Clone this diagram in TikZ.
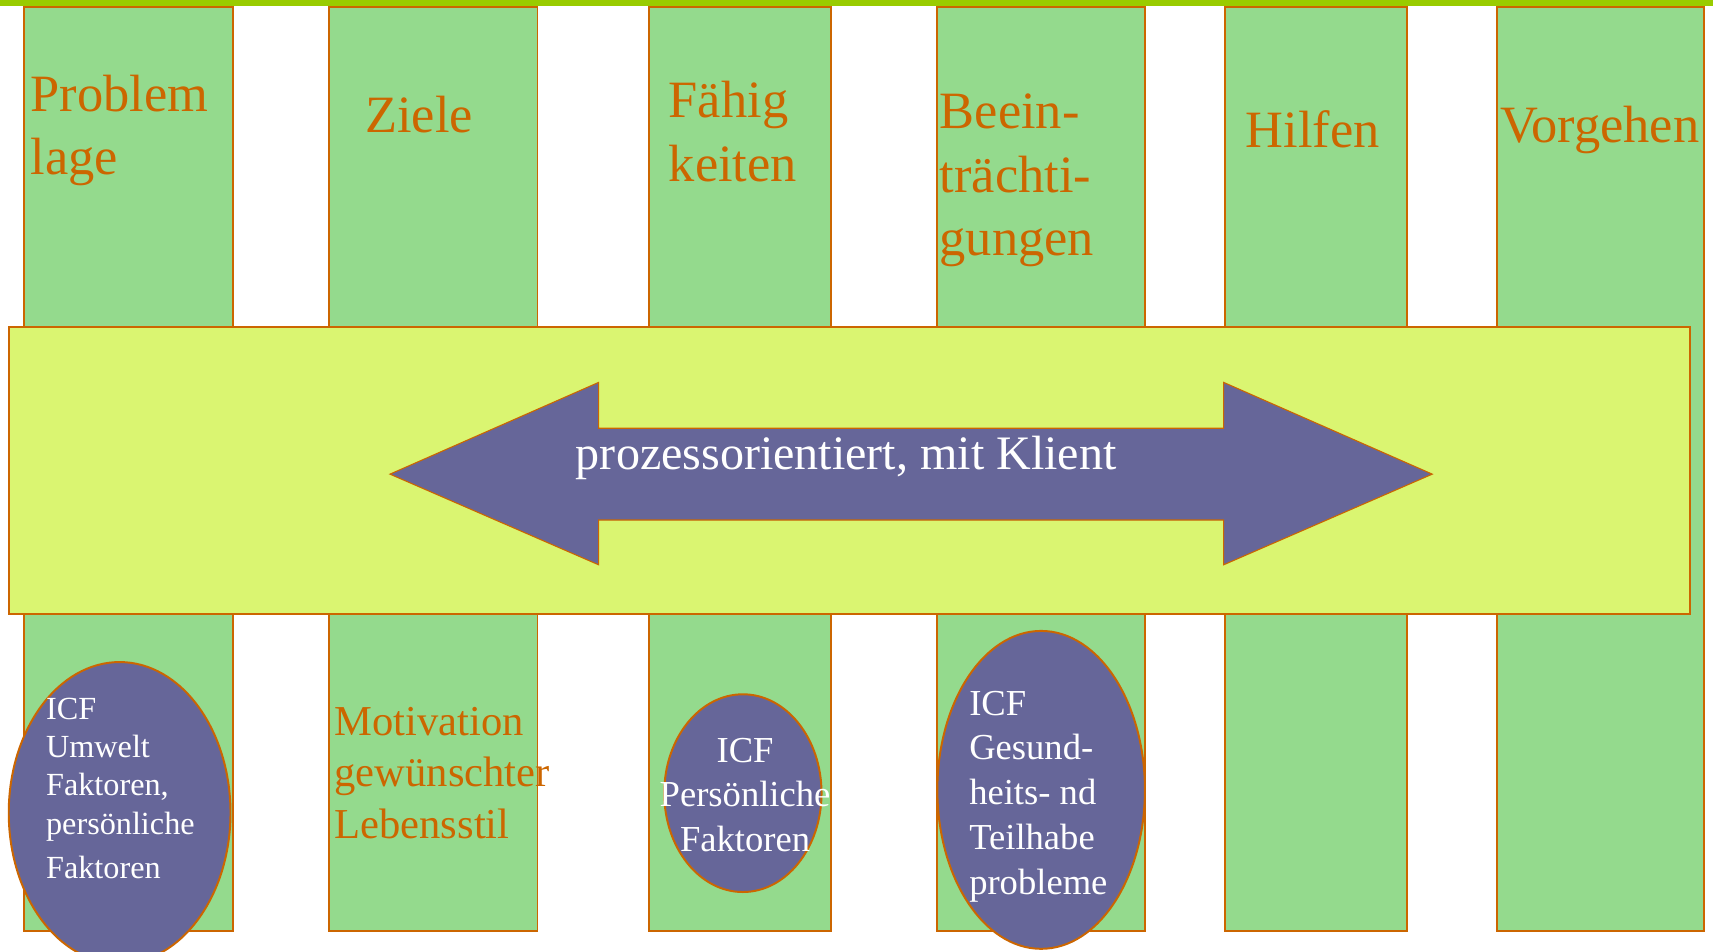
\documentclass[tikz,border=0pt]{standalone}
\usepackage{fontspec}
\setmainfont{Liberation Serif}
\usetikzlibrary{shapes.geometric}
\definecolor{topbar}{HTML}{99CC00}
\definecolor{colgreen}{HTML}{94DA8D}
\definecolor{bandyellow}{HTML}{DAF571}
\definecolor{edgeorange}{HTML}{CC6600}
\definecolor{icfpurple}{HTML}{666699}
\newcommand\linesL[1]{\begin{tabular}[t]{@{}l@{}}#1\end{tabular}}
\newcommand\linesC[1]{\begin{tabular}[t]{@{}c@{}}#1\end{tabular}}
\tikzset{
  colbox/.style={draw=edgeorange, fill=colgreen, line width=1.8pt, rectangle, inner sep=0pt, minimum height=846pt},
  bandbox/.style={draw=edgeorange, fill=bandyellow, line width=1.8pt, rectangle, inner sep=0pt},
  icf/.style={draw=edgeorange, fill=icfpurple, line width=1.8pt, ellipse, inner sep=0pt},
  head/.style={text=edgeorange, inner sep=0pt, anchor=base west, font=\fontsize{48}{58}\selectfont},
  wtext/.style={text=white, inner sep=0pt},
}
\begin{document}
\begin{tikzpicture}[x=1pt, y=-1pt]
\useasboundingbox (0,0) rectangle (1568,871);
\fill[white] (0,0) rectangle (1568,871);
% columns
\node[colbox, minimum width=191pt] (c1) at (117.5,429) {};
\node[colbox, minimum width=191pt] (c2) at (396.5,429) {};
\node[colbox, minimum width=167pt] (c3) at (677.5,429) {};
\node[colbox, minimum width=190pt] (c4) at (953,429) {};
\node[colbox, minimum width=167pt] (c5) at (1204.5,429) {};
\node[colbox, minimum width=190pt] (c6) at (1465,429) {};
% top bar
\fill[topbar] (0,0) rectangle (1568,5.5);
% headings
\node[head] (t1) at (28,102) {\linesL{Problem\\lage}};
\node[head] (t2) at (334,121) {Ziele};
\node[head] (t3) at (612,108) {\linesL{Fähig\\keiten}};
\node[head] (t4) at (860,118) {\linesL{Beein-\\trächti-\\gungen}};
\node[head] (t5) at (1140,135) {Hilfen};
\node[head] (t6) at (1373,130) {Vorgehen};
% band
\node[bandbox, minimum width=1539pt, minimum height=263pt] (band) at (777.5,430.5) {};
% double arrow
\draw[draw=edgeorange, fill=icfpurple, line width=1pt, line join=miter]
  (357,434) -- (548,350) -- (548,392) -- (1120,392) -- (1120,350) -- (1311,434)
  -- (1120,517) -- (1120,476) -- (548,476) -- (548,517) -- cycle;
\node[wtext, anchor=base west, font=\fontsize{44}{52}\selectfont] (arrowtext) at (527,430) {prozessorientiert, mit Klient};
% lower texts
\node[text=edgeorange, inner sep=0pt, anchor=base west, font=\fontsize{39}{47.3}\selectfont] (motiv) at (306,673) {\linesL{Motivation\\gewünschter\\Lebensstil}};
% ICF ellipses
\node[icf, minimum width=203pt, minimum height=276pt] (e1) at (109.5,744) {};
\node[icf, minimum width=144pt, minimum height=181pt] (e2) at (680,726) {};
\node[icf, minimum width=190pt, minimum height=291pt] (e3) at (953,723) {};
\node[wtext, anchor=base west, font=\fontsize{29.5}{35}\selectfont] (e1t) at (42,658.5) {\linesL{ICF\\Umwelt\\Faktoren,\\persönliche\\[6pt]Faktoren}};
\node[wtext, anchor=base, font=\fontsize{33.5}{40.5}\selectfont] (e2t) at (682,698) {\linesC{ICF\\Persönliche\\Faktoren}};
\node[wtext, anchor=base west, font=\fontsize{33.5}{41}\selectfont] (e3t) at (887,654.5) {\linesL{ICF\\Gesund-\\heits- nd\\Teilhabe\\probleme}};
\end{tikzpicture}
\end{document}
